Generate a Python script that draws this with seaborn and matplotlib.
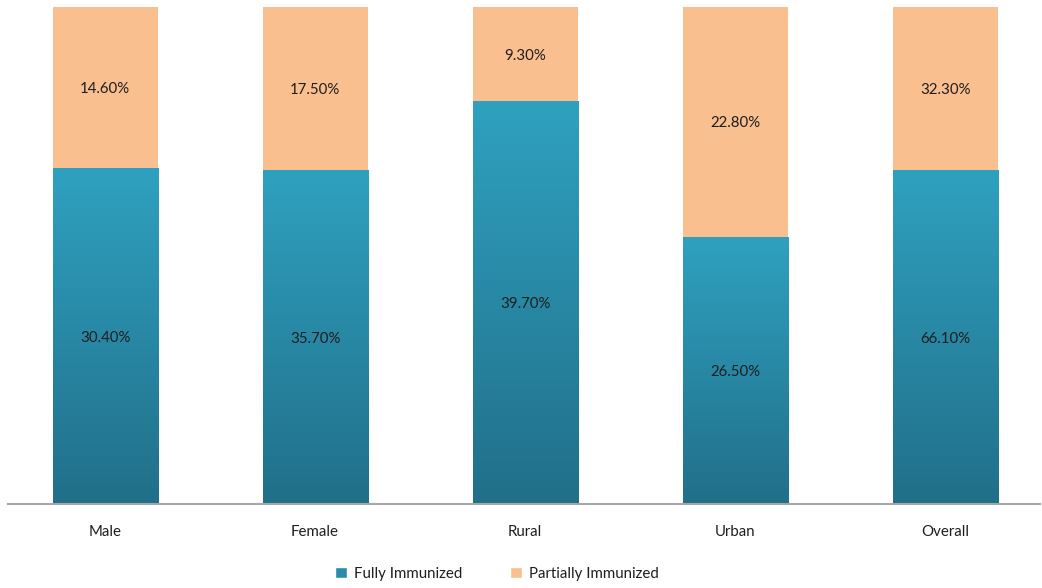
import numpy as np
import pandas as pd
import matplotlib
matplotlib.use("Agg")
import matplotlib.pyplot as plt
from matplotlib.patches import Patch
from matplotlib.colors import LinearSegmentedColormap
import seaborn as sns

categories = ["Male", "Female", "Rural", "Urban", "Overall"]
fully = [30.4, 35.7, 39.7, 26.5, 66.1]
partially = [14.6, 17.5, 9.3, 22.8, 32.3]

BLUE_TOP = "#2FA1C0"
BLUE_BOTTOM = "#216F89"
BLUE = "#2A8BAA"
ORANGE = "#F9BF8F"
TEXT = "#1E1E1E"

sns.set_theme(style="white")
plt.rcParams["font.family"] = ["Lato", "DejaVu Sans"]

df = pd.DataFrame({"category": categories, "fully": fully, "partially": partially})
df["total"] = df["fully"] + df["partially"]
df["share_full"] = df["fully"] / df["total"]
df["share_all"] = 1.0

fig = plt.figure(figsize=(10.42, 5.88), dpi=100)
ax = fig.add_axes([8 / 1042, 84 / 588, 1032 / 1042, (504 - 7) / 588])

# 100% stacked: full-height partial bar behind, fully-immunized share in front
sns.barplot(data=df, x="category", y="share_all", color=ORANGE, width=0.5,
            saturation=1, ax=ax, edgecolor="none")
n_before = len(ax.patches)
sns.barplot(data=df, x="category", y="share_full", color=BLUE, width=0.5,
            saturation=1, ax=ax, edgecolor="none")
blue_patches = ax.patches[n_before:]

# vertical gradient fill for the fully-immunized segments
cmap = LinearSegmentedColormap.from_list("blue_grad", [BLUE_BOTTOM, BLUE_TOP])
grad = np.linspace(0, 1, 256).reshape(-1, 1)
for p in blue_patches:
    x0, y0 = p.get_x(), p.get_y()
    w, h = p.get_width(), p.get_height()
    im = ax.imshow(grad, cmap=cmap, origin="lower", aspect="auto",
                   extent=[x0, x0 + w, y0, y0 + h], zorder=p.get_zorder() + 0.1,
                   interpolation="bilinear")
    im.set_clip_path(p)
ax.set_xlim(-0.462, 4.452)
ax.set_ylim(0, 1)

# value labels centred in each segment
for i, row in df.iterrows():
    ax.text(i, row["share_full"] / 2, f"{row['fully']:.2f}%", ha="center",
            va="center_baseline", fontsize=10.8, color=TEXT, zorder=5)
    ax.text(i, row["share_full"] + (1 - row["share_full"]) / 2,
            f"{row['partially']:.2f}%", ha="center", va="center_baseline",
            fontsize=10.8, color=TEXT, zorder=5)

ax.set_xlabel("")
ax.set_ylabel("")
ax.set_yticks([])
ax.tick_params(axis="x", length=0, pad=15, labelsize=10.8, labelcolor=TEXT)
for side in ["top", "right", "left"]:
    ax.spines[side].set_visible(False)
ax.spines["bottom"].set_color("#A6A6A6")
ax.spines["bottom"].set_linewidth(1.5)

handles = [Patch(facecolor=BLUE, label="Fully Immunized"),
           Patch(facecolor=ORANGE, label="Partially Immunized")]
fig.legend(handles=handles, loc="center", bbox_to_anchor=(0.477, 0.024), ncol=2,
           frameon=False, fontsize=10.8, handlelength=0.75, handleheight=0.75,
           handletextpad=0.5, columnspacing=3.2, labelcolor=TEXT)

fig.savefig("out.png", dpi=100)
